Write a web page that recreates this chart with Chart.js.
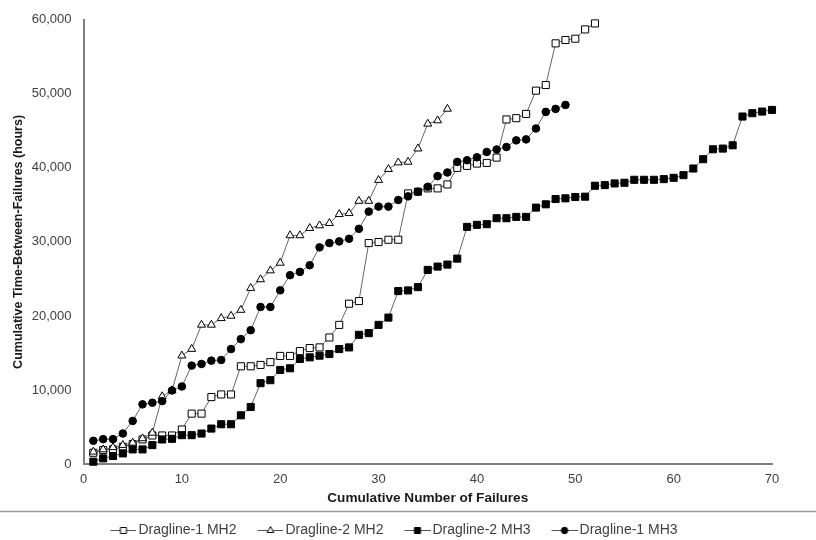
<!DOCTYPE html>
<html>
<head>
<meta charset="utf-8">
<script src="https://cdn.jsdelivr.net/npm/chart.js@4.4.0/dist/chart.umd.min.js"></script>
<style>
  html, body { margin: 0; padding: 0; background: #fff; }
</style>
</head>
<body>
<canvas id="failureChart" width="816" height="540"></canvas>
<script>
// cumulative time-between-failures (hours), one value per failure number 1..n
const dragline1Mh2 = [1517, 1879, 1970, 2322, 2685, 3315, 3852, 3852, 3852, 4658,
  6805, 6805, 9040, 9396, 9396, 13200, 13200, 13380, 13760, 14600,
  14600, 15250, 15660, 15750, 17090, 18790, 21650, 22010, 29840, 29980,
  30290, 30290, 36550, 36780, 37230, 37230, 37760, 40000, 40270, 40580,
  40670, 41390, 46540, 46710, 47290, 50430, 51190, 56820, 57270, 57450,
  58700, 59510];
const dragline2Mh2 = [1650, 1950, 2250, 2550, 2864, 3450, 4206, 9128, 9933, 14631,
  15526, 18792, 18792, 19687, 20000, 20800, 23760, 24930, 26130, 27160,
  30872, 30872, 31857, 32215, 32528, 33736, 33870, 35525, 35525, 38345,
  39821, 40716, 40805, 42595, 45950, 46398, 47966];
const dragline2Mh3 = [313, 761, 1074, 1432, 1970, 1970, 2550, 3315, 3400, 3893,
  3893, 4116, 4787, 5369, 5369, 6577, 7700, 10917, 11320, 12707,
  12930, 14183, 14407, 14631, 14855, 15526, 15749, 17450, 17673, 18792,
  19776, 23356, 23445, 23893, 26219, 26667, 26935, 27740, 32030, 32305,
  32394, 33200, 33200, 33378, 33378, 34631, 35078, 35794, 35884, 36063,
  36107, 37584, 37673, 37897, 37987, 38389, 38389, 38389, 38479, 38658,
  39016, 39911, 41172, 42514, 42604, 43050, 46935, 47383, 47606, 47830];
const dragline1Mh3 = [3132, 3356, 3356, 4116, 5817, 8054, 8277, 8501, 9933, 10470,
  13289, 13512, 13960, 14049, 15526, 16868, 18076, 21208, 21208, 23460,
  25503, 25950, 26846, 29262, 29843, 30067, 30425, 31768, 34094, 34765,
  34765, 35660, 36150, 36778, 37450, 38882, 39374, 40805, 41029, 41430,
  42148, 42480, 42819, 43714, 43848, 45320, 47560, 47964, 48501];

const seriesNames = ['Dragline-1 MH2', 'Dragline-2 MH2', 'Dragline-2 MH3', 'Dragline-1 MH3'];
const seriesValues = [dragline1Mh2, dragline2Mh2, dragline2Mh3, dragline1Mh3];
const seriesMarkers = ['rect', 'triangle', 'rect', 'circle'];
const seriesFilled = [false, false, true, true];

const fontFamily = "'Liberation Sans', Arial, Helvetica, sans-serif";
const markerRadius = { rect: 5, triangle: 4.6, circle: 3.8 };

// legend icon: short line with the marker in the middle, drawn on a small canvas
function legendIcon(marker, filled) {
  const c = document.createElement('canvas');
  c.width = 42;
  c.height = 14;
  const g = c.getContext('2d');
  g.strokeStyle = '#555';
  g.lineWidth = 1;
  g.beginPath();
  g.moveTo(16, 7.5);
  g.lineTo(42, 7.5);
  g.stroke();
  g.fillStyle = filled ? '#000' : '#fff';
  g.strokeStyle = '#000';
  g.lineWidth = 1;
  Chart.helpers.drawPoint(g, { pointStyle: marker, radius: markerRadius[marker] * 0.85, rotation: 0, borderWidth: 1 }, 29, 7.5);
  return c;
}

const legendIcons = seriesMarkers.map((m, i) => legendIcon(m, seriesFilled[i]));

const datasets = seriesNames.map((name, i) => ({
  label: name,
  data: seriesValues[i].map((v, k) => ({ x: k + 1, y: v })),
  showLine: true,
  clip: false,
  borderColor: '#666',
  borderWidth: 1,
  pointStyle: seriesMarkers[i],
  pointRadius: markerRadius[seriesMarkers[i]],
  pointBackgroundColor: seriesFilled[i] ? '#000' : '#fff',
  pointBorderColor: '#000',
  pointBorderWidth: 1,
  order: seriesNames.length - i
}));

// thin rule between the axis title and the legend
const figureRule = {
  id: 'figureRule',
  afterDraw(chart) {
    const ctx = chart.ctx;
    const y = chart.legend.top - 1.5;
    ctx.save();
    ctx.strokeStyle = '#9a9a9a';
    ctx.lineWidth = 1.5;
    ctx.beginPath();
    ctx.moveTo(0, y);
    ctx.lineTo(chart.width, y);
    ctx.stroke();
    ctx.restore();
  }
};

new Chart(document.getElementById('failureChart').getContext('2d'), {
  type: 'scatter',
  data: { datasets: datasets },
  plugins: [figureRule],
  options: {
    responsive: false,
    animation: false,
    layout: { padding: { left: 5, right: 44, top: 16, bottom: 0 } },
    plugins: {
      legend: {
        position: 'bottom',
        maxHeight: 27,
        labels: {
          usePointStyle: true,
          pointStyleWidth: 32,
          padding: 10,
          color: '#404040',
          font: { family: fontFamily, size: 14 },
          generateLabels(chart) {
            const items = Chart.defaults.plugins.legend.labels.generateLabels(chart);
            items.forEach(it => { it.pointStyle = legendIcons[it.datasetIndex]; });
            items.sort((a, b) => a.datasetIndex - b.datasetIndex);
            return items;
          }
        }
      },
      tooltip: { enabled: false }
    },
    scales: {
      x: {
        type: 'linear',
        min: 0,
        max: 70,
        ticks: { stepSize: 10, padding: 8, color: '#404040', font: { family: fontFamily, size: 13 } },
        grid: { display: false, drawTicks: false },
        border: { color: '#808080', width: 2 },
        title: {
          display: true,
          text: 'Cumulative Number of Failures',
          color: '#1a1a1a',
          font: { family: fontFamily, size: 13.6, weight: 'bold' },
          padding: { top: 0, bottom: 7 }
        },
        afterFit(scale) { scale.height = 49; }
      },
      y: {
        min: 0,
        max: 60000,
        ticks: { stepSize: 10000, padding: 12, color: '#404040', font: { family: fontFamily, size: 13 } },
        grid: { display: false, drawTicks: false },
        border: { color: '#808080', width: 2 },
        title: {
          display: true,
          text: 'Cumulative Time-Between-Failures (hours)',
          color: '#1a1a1a',
          font: { family: fontFamily, size: 12.5, weight: 'bold' },
          padding: { top: 6.5, bottom: 0 }
        },
        afterFit(scale) { scale.width = 78.5; }
      }
    }
  }
});
</script>
</body>
</html>
